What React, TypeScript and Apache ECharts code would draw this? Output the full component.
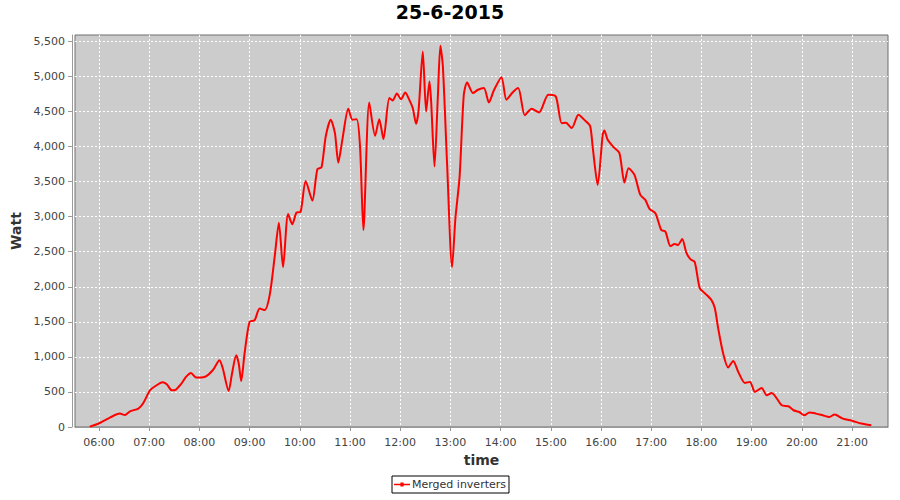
import React, { useEffect, useRef } from "react";
import * as echarts from "echarts";

const chartTitle = "25-6-2015";
const seriesName = "Merged inverters";
const xAxisName = "time";
const yAxisName = "Watt";

const times = [
  "05:49", "06:01", "06:13", "06:25", "06:31", "06:37", "06:47", "06:53", "07:01", "07:07",
  "07:16", "07:21", "07:27", "07:32", "07:38", "07:44", "07:50", "07:56", "08:06", "08:16",
  "08:24", "08:28", "08:35", "08:39", "08:44", "08:47", "08:50", "08:54", "09:00", "09:06",
  "09:12", "09:18", "09:24", "09:30", "09:35", "09:40", "09:46", "09:51", "09:56", "10:01",
  "10:07", "10:15", "10:21", "10:26", "10:31", "10:37", "10:42", "10:46", "10:51", "10:58",
  "11:03", "11:08", "11:12", "11:16", "11:23", "11:30", "11:35", "11:40", "11:47", "11:51",
  "11:56", "12:01", "12:06", "12:11", "12:15", "12:19", "12:22", "12:27", "12:31", "12:35",
  "12:37", "12:41", "12:45", "12:48", "12:51", "12:56", "13:02", "13:06", "13:11", "13:16",
  "13:20", "13:27", "13:33", "13:40", "13:46", "13:52", "14:01", "14:07", "14:14", "14:21",
  "14:29", "14:37", "14:46", "14:57", "15:06", "15:13", "15:18", "15:25", "15:33", "15:41",
  "15:47", "15:50", "15:56", "16:02", "16:04", "16:08", "16:15", "16:22", "16:28", "16:33",
  "16:40", "16:47", "16:53", "16:58", "17:05", "17:12", "17:17", "17:23", "17:28", "17:32",
  "17:37", "17:42", "17:47", "17:52", "17:58", "18:04", "18:12", "18:16", "18:20", "18:26",
  "18:32", "18:38", "18:44", "18:52", "18:58", "19:04", "19:12", "19:18", "19:24", "19:36",
  "19:44", "19:50", "19:57", "20:03", "20:09", "20:17", "20:25", "20:33", "20:39", "20:49",
  "21:01", "21:11", "21:23",
];

const watts = [
  5, 57, 134, 191, 171, 224, 263, 343, 524, 581,
  639, 610, 524, 534, 610, 714, 771, 706, 714, 810,
  953, 834, 514, 763, 1024, 906, 657, 1049, 1500, 1524,
  1691, 1667, 1881, 2429, 2914, 2277, 3039, 2891, 3057, 3071,
  3510, 3229, 3677, 3706, 4143, 4381, 4191, 3771, 4106, 4539,
  4381, 4391, 4000, 2810, 4629, 4153, 4391, 4106, 4692, 4657,
  4757, 4674, 4771, 4663, 4549, 4324, 4524, 5357, 4500, 4929,
  4643, 3714, 4714, 5439, 5143, 3763, 2277, 2977, 3571, 4739,
  4914, 4763, 4810, 4834, 4629, 4803, 4989, 4667, 4767, 4834,
  4446, 4539, 4486, 4739, 4714, 4334, 4339, 4263, 4453, 4370,
  4291, 4000, 3453, 4167, 4229, 4096, 3991, 3906, 3486, 3691,
  3596, 3310, 3239, 3110, 3049, 2810, 2786, 2581, 2610, 2596,
  2681, 2486, 2391, 2353, 1981, 1910, 1810, 1696, 1410, 1049,
  849, 943, 786, 629, 643, 500, 557, 453, 486, 310,
  296, 239, 214, 167, 206, 191, 167, 143, 177, 120,
  86, 49, 24,
];

const xRange = ["05:31:20", "21:43:00"];
const yMax = 5591;
const yStep = 500;

function toTs(s: string): number {
  const p = s.split(":").map(Number);
  return new Date(2015, 5, 25, p[0], p[1], p[2] || 0).getTime();
}

function pad(n: number): string {
  return n < 10 ? "0" + n : String(n);
}

export default function App() {
  const ref = useRef<HTMLDivElement>(null);

  useEffect(() => {
    if (!ref.current) return;
    const chart = echarts.init(ref.current, null, { renderer: "svg" });
    const data = times.map((t, i) => [toTs(t), watts[i]]);
    const font = "DejaVu Sans";

    chart.setOption({
      animation: false,
      backgroundColor: "#ffffff",
      title: {
        text: chartTitle,
        left: "center",
        top: 2,
        padding: 0,
        textStyle: { fontFamily: font, fontWeight: "bold", fontSize: 19, color: "#000000" },
      },
      legend: {
        data: [seriesName],
        left: "center",
        top: 476,
        padding: [3, 3, 3, 2],
        borderColor: "#000000",
        borderWidth: 1,
        itemWidth: 16,
        itemHeight: 5,
        itemGap: 4,
        icon: "path://M0,4 L20,4 L20,6 L0,6 Z M8,2.5 L12,2.5 L12,7.5 L8,7.5 Z",
        textStyle: { fontFamily: font, fontSize: 11, color: "#333333", padding: [0, 0, 0, -3] },
      },
      grid: {
        left: 75,
        right: 12,
        top: 35,
        bottom: 73,
        show: true,
        backgroundColor: "#cccccc",
        borderColor: "#6f6f6f",
        borderWidth: 1,
        outerBoundsMode: "none",
      },
      xAxis: {
        type: "time",
        min: toTs(xRange[0]),
        max: toTs(xRange[1]),
        minInterval: 3600 * 1000,
        maxInterval: 3600 * 1000,
        offset: 3,
        name: xAxisName,
        nameLocation: "middle",
        nameGap: 22,
        nameTextStyle: { fontFamily: font, fontWeight: "bold", fontSize: 14, color: "#333333" },
        axisLine: { show: true, lineStyle: { color: "#999999", width: 1 } },
        axisTick: { show: true, length: 4, inside: false, lineStyle: { color: "#999999" } },
        axisLabel: {
          fontFamily: font,
          fontSize: 11,
          color: "#444444",
          margin: 7,
          showMinLabel: false,
          showMaxLabel: false,
          formatter: (v: number) => {
            const d = new Date(v);
            return pad(d.getHours()) + ":" + pad(d.getMinutes());
          },
        },
        splitLine: {
          show: true,
          showMinLine: false,
          showMaxLine: false,
          lineStyle: { color: "#ffffff", type: [2, 2], width: 1 },
        },
      },
      yAxis: {
        type: "value",
        min: 0,
        max: yMax,
        interval: yStep,
        offset: 3,
        name: yAxisName,
        nameLocation: "middle",
        nameGap: 41,
        nameTextStyle: { fontFamily: font, fontWeight: "bold", fontSize: 14, color: "#333333" },
        axisLine: { show: true, lineStyle: { color: "#999999", width: 1 } },
        axisTick: { show: true, length: 4, inside: false, lineStyle: { color: "#999999" } },
        axisLabel: {
          fontFamily: font,
          fontSize: 11,
          color: "#444444",
          margin: 7,
          showMaxLabel: false,
          formatter: (v: number) => (v % yStep === 0 ? v.toLocaleString("en-US") : ""),
        },
        splitLine: {
          show: true,
          showMinLine: false,
          showMaxLine: false,
          lineStyle: { color: "#ffffff", type: [2, 2], width: 1 },
        },
      },
      series: [
        {
          name: seriesName,
          type: "line",
          data,
          showSymbol: false,
          smooth: 0.25,
          lineStyle: { color: "#ff0000", width: 2 },
          itemStyle: { color: "#ff0000" },
        },
      ],
    });

    return () => chart.dispose();
  }, []);

  return (
    <div
      ref={ref}
      style={{ position: "fixed", left: 0, top: 0, width: 900, height: 500 }}
    />
  );
}
